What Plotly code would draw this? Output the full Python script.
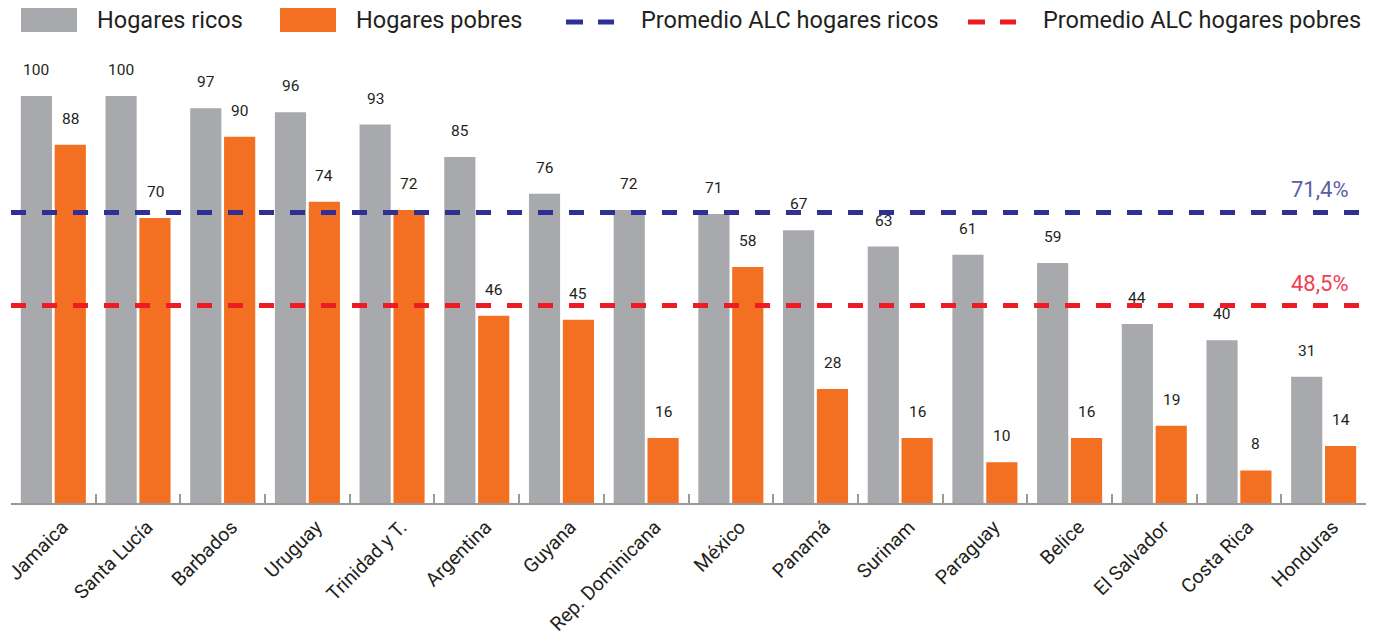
import plotly.graph_objects as go

# Data
paises = ["Jamaica", "Santa Lucía", "Barbados", "Uruguay", "Trinidad y T.", "Argentina",
          "Guyana", "Rep. Dominicana", "México", "Panamá", "Surinam", "Paraguay",
          "Belice", "El Salvador", "Costa Rica", "Honduras"]
hogares_ricos = [100, 100, 97, 96, 93, 85, 76, 72, 71, 67, 63, 61, 59, 44, 40, 31]
hogares_pobres = [88, 70, 90, 74, 72, 46, 45, 16, 58, 28, 16, 10, 16, 19, 8, 14]
promedio_ricos = 71.4
promedio_pobres = 48.5

GRIS = "#a7a9ac"
NARANJA = "#f36f21"
AZUL = "#2e3192"
ROJO = "#ed1c24"
TEXTO = "#231f20"
FUENTE = "Roboto, Arial, sans-serif"

W, H = 1378, 641
ML, MR, MT, MB = 11, 12, 60, 138
PLOT_W = W - ML - MR
PLOT_H = H - MT - MB
Y_MAX = 108.85


def px_x(px):
    return (px - ML) / PLOT_W


def px_y(py):
    return (H - MB - py) / PLOT_H


fig = go.Figure()
fig.add_trace(go.Bar(x=paises, y=hogares_ricos, name="Hogares ricos",
                     marker=dict(color=GRIS, line=dict(width=0))))
fig.add_trace(go.Bar(x=paises, y=hogares_pobres, name="Hogares pobres",
                     marker=dict(color=NARANJA, line=dict(width=0))))

# Value labels above each bar
anns = []
for serie, dx in ((hogares_ricos, -17), (hogares_pobres, 17)):
    for p, v in zip(paises, serie):
        anns.append(dict(x=p, y=v, xref="x", yref="y", text=str(v), showarrow=False,
                         xshift=dx, yshift=15, yanchor="bottom",
                         font=dict(family=FUENTE, size=15.5, color=TEXTO)))

# Average lines
shapes = []
for val, col in ((promedio_ricos, AZUL), (promedio_pobres, ROJO)):
    shapes.append(dict(type="line", xref="paper", yref="y", x0=0, x1=1, y0=val, y1=val,
                       line=dict(color=col, width=5, dash="15px,16px"), layer="above"))

anns.append(dict(x=px_x(1351), y=promedio_ricos, xref="paper", yref="y",
                 text=f"{promedio_ricos:.1f}%".replace(".", ","), showarrow=False,
                 xanchor="right", yanchor="bottom", yshift=8,
                 font=dict(family=FUENTE, size=22, color="#5b5ea6")))
anns.append(dict(x=px_x(1351), y=promedio_pobres, xref="paper", yref="y",
                 text=f"{promedio_pobres:.1f}%".replace(".", ","), showarrow=False,
                 xanchor="right", yanchor="bottom", yshift=8,
                 font=dict(family=FUENTE, size=22, color="#ef4050")))

# Legend drawn by hand
leg_y = 20
for x0, x1, col in ((21, 77, GRIS), (280, 336, NARANJA)):
    shapes.append(dict(type="rect", xref="paper", yref="paper",
                       x0=px_x(x0), x1=px_x(x1), y0=px_y(32), y1=px_y(8),
                       fillcolor=col, line=dict(width=0)))
for segs, col in (([(566, 583), (598, 614)], AZUL), ([(968, 985), (1000, 1016)], ROJO)):
    for a, b in segs:
        shapes.append(dict(type="line", xref="paper", yref="paper",
                           x0=px_x(a), x1=px_x(b), y0=px_y(leg_y + 2), y1=px_y(leg_y + 2),
                           line=dict(color=col, width=5)))
for xpx, txt in ((95, "Hogares ricos"), (354, "Hogares pobres"),
                 (639, "Promedio ALC hogares ricos"), (1041, "Promedio ALC hogares pobres")):
    anns.append(dict(x=px_x(xpx), y=px_y(leg_y), xref="paper", yref="paper", text=txt,
                     showarrow=False, xanchor="left", yanchor="middle",
                     font=dict(family=FUENTE, size=23.5, color=TEXTO)))

fig.update_layout(
    width=W, height=H,
    margin=dict(l=ML, r=MR, t=MT, b=MB, pad=0, autoexpand=False),
    paper_bgcolor="white", plot_bgcolor="white",
    barmode="group", bargap=0.2, bargroupgap=0.08,
    showlegend=False,
    shapes=shapes, annotations=anns,
    font=dict(family=FUENTE, color=TEXTO),
)
fig.update_xaxes(
    type="category", tickangle=-45, tickson="boundaries", automargin=False,
    ticks="inside", ticklen=9, tickwidth=2, tickcolor="#999999",
    ticklabelshift=9, ticklabelstandoff=3,
    showline=True, linecolor="#999999", linewidth=2,
    showgrid=False, tickfont=dict(family=FUENTE, size=19.5, color=TEXTO),
)
fig.update_yaxes(range=[0, Y_MAX], visible=False, showgrid=False, zeroline=False,
                 automargin=False)

fig.write_html("out.html")
